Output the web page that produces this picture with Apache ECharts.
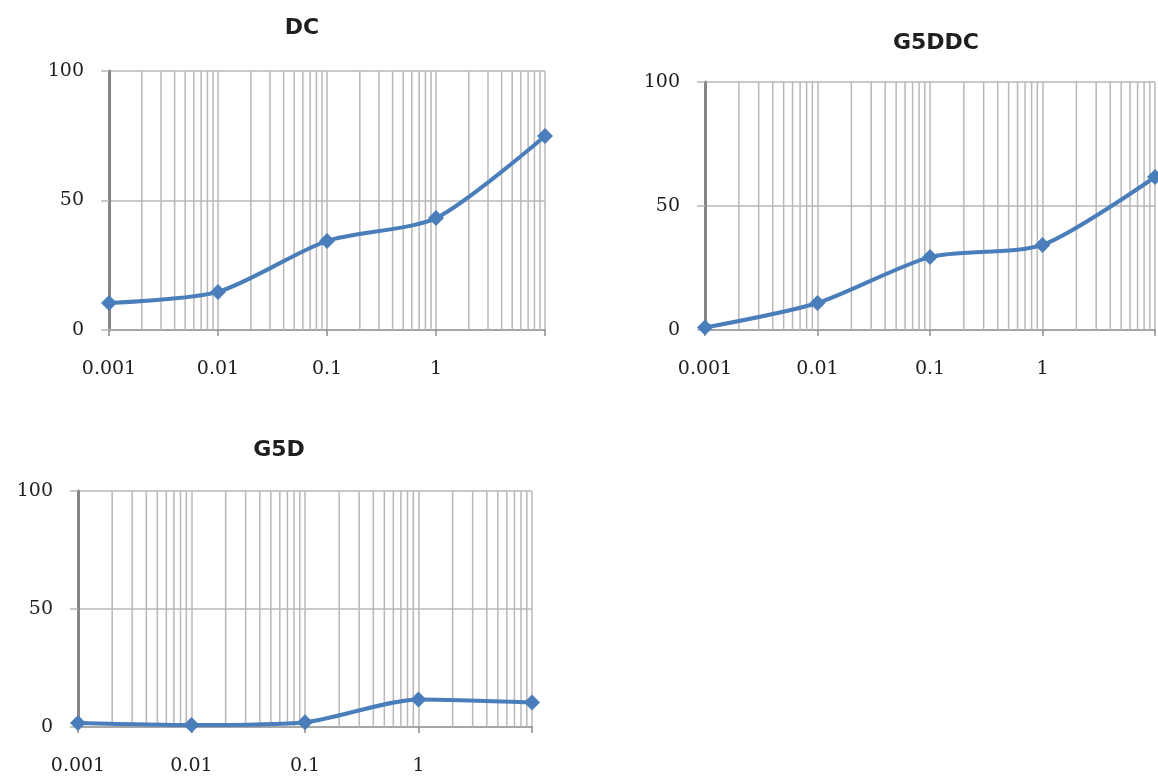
<!DOCTYPE html>
<html>
<head>
<meta charset="utf-8">
<title>DC / G5DDC / G5D</title>
<script src="https://cdn.jsdelivr.net/npm/echarts@6/dist/echarts.min.js"></script>
<style>
  html, body { margin: 0; padding: 0; background: #ffffff; }
  #chart { width: 1158px; height: 776px; }
</style>
</head>
<body>
<div id="chart"></div>
<script>
// Concentrations (log scale) and responses for each panel
const concentrations = [0.001, 0.01, 0.1, 1, 10];
const dcValues    = [10.4, 14.7, 34.4, 43.2, 74.9];
const g5ddcValues = [1.0, 10.9, 29.4, 34.3, 61.7];
const g5dValues   = [1.7, 0.8, 2.0, 11.7, 10.4];

const panelTitles = ['DC', 'G5DDC', 'G5D'];
const xTickLabels = ['0.001', '0.01', '0.1', '1'];
const decadeStarts = [0.001, 0.01, 0.1, 1];
const minorMultipliers = [2, 3, 4, 5, 6, 7, 8, 9];

const LINE_BLUE = '#4a7ebb';
const GRID_GRAY = '#b8b8b8';
const TEXT = '#1f1f1f';

// Positions of the minor log gridlines (2..9 within every decade)
const minorTickValues = [];
decadeStarts.forEach(d => minorMultipliers.forEach(m => minorTickValues.push(d * m)));

const panels = [
  { title: panelTitles[0], values: dcValues,    grid: { left: 109, top: 71,  width: 436, height: 259 }, titlePos: { left: 297, top: 12 } },
  { title: panelTitles[1], values: g5ddcValues, grid: { left: 705, top: 82,  width: 453, height: 248 }, titlePos: { left: 931, top: 27 } },
  { title: panelTitles[2], values: g5dValues,   grid: { left: 78,  top: 491, width: 454, height: 240 }, titlePos: { left: 274, top: 434 } }
];

// Vertical minor gridline spanning the full value range of the panel
function renderMinorLine(params, api) {
  const top = api.coord([api.value(0), 100]);
  const bottom = api.coord([api.value(0), 0]);
  return {
    type: 'line',
    shape: { x1: top[0], y1: top[1], x2: bottom[0], y2: bottom[1] },
    style: { stroke: GRID_GRAY, lineWidth: 1.5 },
    silent: true
  };
}

const lineSeries = panels.map((p, i) => ({
  name: p.title,
  type: 'line',
  xAxisIndex: i,
  yAxisIndex: i,
  data: concentrations.map((c, k) => [c, p.values[k]]),
  smooth: 0.25,
  symbol: 'diamond',
  symbolSize: [16, 16],
  z: 3,
  lineStyle: { color: LINE_BLUE, width: 4 },
  itemStyle: { color: LINE_BLUE }
}));

const minorGridSeries = panels.map((p, i) => ({
  type: 'custom',
  xAxisIndex: i,
  yAxisIndex: i,
  z: 1,
  silent: true,
  clip: false,
  data: minorTickValues.map(v => [v]),
  renderItem: renderMinorLine
}));

const option = {
  animation: false,
  backgroundColor: '#ffffff',
  title: panels.map(p => ({
    text: p.title,
    left: p.titlePos.left,
    top: p.titlePos.top,
    textAlign: 'center',
    textStyle: { fontFamily: 'DejaVu Sans', fontWeight: 'bold', fontSize: 22, color: TEXT }
  })),
  grid: panels.map(p => Object.assign({ containLabel: false }, p.grid)),
  xAxis: panels.map((p, i) => ({
    type: 'log',
    logBase: 10,
    gridIndex: i,
    min: 0.001,
    max: 10,
    axisLine: { show: true, onZero: false, lineStyle: { color: '#a6a6a6', width: 2 } },
    axisTick: { show: true, inside: false, length: 6, lineStyle: { color: '#8c8c8c', width: 1.5 } },
    axisLabel: {
      margin: 30,
      fontFamily: 'DejaVu Serif',
      fontSize: 19,
      color: TEXT,
      formatter: v => {
        const idx = Math.round(Math.log10(v)) + 3;
        return xTickLabels[idx] || '';
      }
    },
    splitLine: { show: true, lineStyle: { color: GRID_GRAY, width: 1.5 } }
  })),
  yAxis: panels.map((p, i) => ({
    type: 'value',
    gridIndex: i,
    min: 0,
    max: 100,
    interval: 50,
    axisLine: { show: true, lineStyle: { color: '#868686', width: 3 } },
    axisTick: { show: true, inside: false, length: 8, lineStyle: { color: GRID_GRAY, width: 1.5 } },
    axisLabel: { margin: 25, fontFamily: 'DejaVu Serif', fontSize: 19, color: TEXT },
    splitLine: { show: true, lineStyle: { color: GRID_GRAY, width: 1.5 } }
  })),
  series: minorGridSeries.concat(lineSeries)
};

const chart = echarts.init(document.getElementById('chart'), null, { renderer: 'canvas' });
chart.setOption(option);
</script>
</body>
</html>
